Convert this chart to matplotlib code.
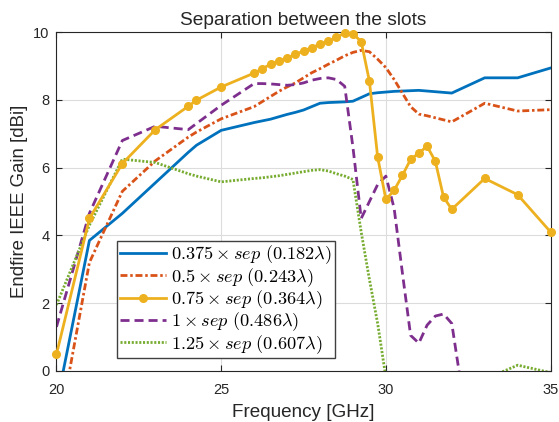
import numpy as np
import matplotlib
matplotlib.use("Agg")
import matplotlib.pyplot as plt

plt.rcParams['font.family'] = ['Liberation Sans', 'DejaVu Sans']
plt.rcParams['mathtext.fontset'] = 'cm'
plt.rcParams['lines.scale_dashes'] = False

# frequency sweep [GHz]
freq = [20, 21, 22, 23, 24, 24.25, 25,
        26, 26.25, 26.5, 26.75, 27, 27.25, 27.5, 27.75, 28, 28.25, 28.5, 28.75,
        29, 29.25, 29.5, 29.75, 30, 30.25, 30.5, 30.75, 31, 31.25, 31.5, 31.75, 32,
        33, 34, 35]

gain_0375 = [-1.0, 3.85, 4.65, 5.55, 6.45, 6.66, 7.1,
             7.33, 7.38, 7.43, 7.5, 7.57, 7.63, 7.7, 7.8, 7.9, 7.92, 7.93, 7.94,
             7.96, 8.07, 8.18, 8.21, 8.23, 8.25, 8.26, 8.27, 8.28, 8.26, 8.24, 8.22, 8.2,
             8.65, 8.65, 8.94]
gain_05 = [-2.1, 3.2, 5.3, 6.2, 6.9, 7.05, 7.44,
           7.8, 7.95, 8.1, 8.25, 8.38, 8.5, 8.65, 8.8, 8.92, 9.05, 9.17, 9.3,
           9.4, 9.46, 9.42, 9.2, 8.95, 8.6, 8.2, 7.8, 7.58, 7.53, 7.47, 7.41, 7.35,
           7.9, 7.67, 7.71]
gain_075 = [0.49, 4.5, 6.12, 7.12, 7.81, 7.99, 8.38,
            8.79, 8.92, 9.05, 9.15, 9.24, 9.34, 9.44, 9.54, 9.64, 9.73, 9.85, 9.97,
            9.95, 9.72, 8.55, 6.31, 5.06, 5.33, 5.77, 6.24, 6.43, 6.63, 6.19, 5.13, 4.77,
            5.68, 5.2, 4.1]
gain_1 = [1.3, 4.65, 6.8, 7.22, 7.12, 7.3, 7.84,
          8.48, 8.48, 8.47, 8.45, 8.43, 8.45, 8.5, 8.58, 8.63, 8.65, 8.6, 8.4,
          6.6, 4.5, 5.0, 5.5, 5.75, 4.8, 2.9, 1.05, 0.82, 1.35, 1.62, 1.68, 1.4,
          -5, -5, -5]
gain_125 = [1.95, 4.3, 6.25, 6.15, 5.82, 5.75, 5.58,
            5.68, 5.7, 5.73, 5.76, 5.8, 5.84, 5.88, 5.92, 5.94, 5.9, 5.82, 5.75,
            5.65, 4.1, 2.7, 1.4, -0.2, -1.5, -3, -4, -4.5, -5, -5, -5, -5,
            -0.25, 0.17, -0.05]

labels = [r'$0.375\times sep\ (0.182\lambda)$',
          r'$0.5\times sep\ (0.243\lambda)$',
          r'$0.75\times sep\ (0.364\lambda)$',
          r'$1\times sep\ (0.486\lambda)$',
          r'$1.25\times sep\ (0.607\lambda)$']

dark = '#262626'
fig = plt.figure(figsize=(5.59, 4.22), dpi=100)
ax = fig.add_axes([0.101, 0.121, 0.884, 0.803])

ax.plot(freq, gain_0375, color='#0072BD', lw=2, label=labels[0])
ax.plot(freq, gain_05, color='#D95319', lw=2, dashes=(5, 2, 1.8, 2), label=labels[1])
ax.plot(freq, gain_075, color='#EDB120', lw=2, marker='o', ms=5.5, label=labels[2], clip_on=False, zorder=3)
ax.plot(freq, gain_1, color='#7E2F8E', lw=2, dashes=(6.5, 3.6), label=labels[3])
ax.plot(freq, gain_125, color='#77AC30', lw=2, dashes=(1.5, 1.2), label=labels[4])

ax.set_xlim(20, 35)
ax.set_ylim(0, 10)
ax.set_xticks([20, 25, 30, 35])
ax.set_yticks([0, 2, 4, 6, 8, 10])
ax.grid(True, color='#dcdcdc', lw=0.8)
ax.set_axisbelow(True)
ax.tick_params(direction='in', top=True, right=True, labelsize=10.5, colors=dark, length=4)
ax.tick_params(axis='x', pad=8.5)
ax.tick_params(axis='y', pad=5)
for s in ax.spines.values():
    s.set_color(dark)
    s.set_linewidth(0.8)

ax.set_xlabel('Frequency [GHz]', fontsize=13.6, color=dark, labelpad=5)
ax.set_ylabel('Endfire IEEE Gain [dBi]', fontsize=13.4, color=dark)
ax.set_title('Separation between the slots', fontsize=13.8, color=dark, pad=5)

leg = ax.legend(loc='lower left', bbox_to_anchor=(0.123, 0.037), fontsize=13.2,
                handlelength=2.5, handletextpad=0.3, labelspacing=-0.02,
                borderpad=0.15, borderaxespad=0, fancybox=False, framealpha=1,
                edgecolor='#404040')
leg.get_frame().set_linewidth(1.0)

fig.savefig('out.png', dpi=100)
